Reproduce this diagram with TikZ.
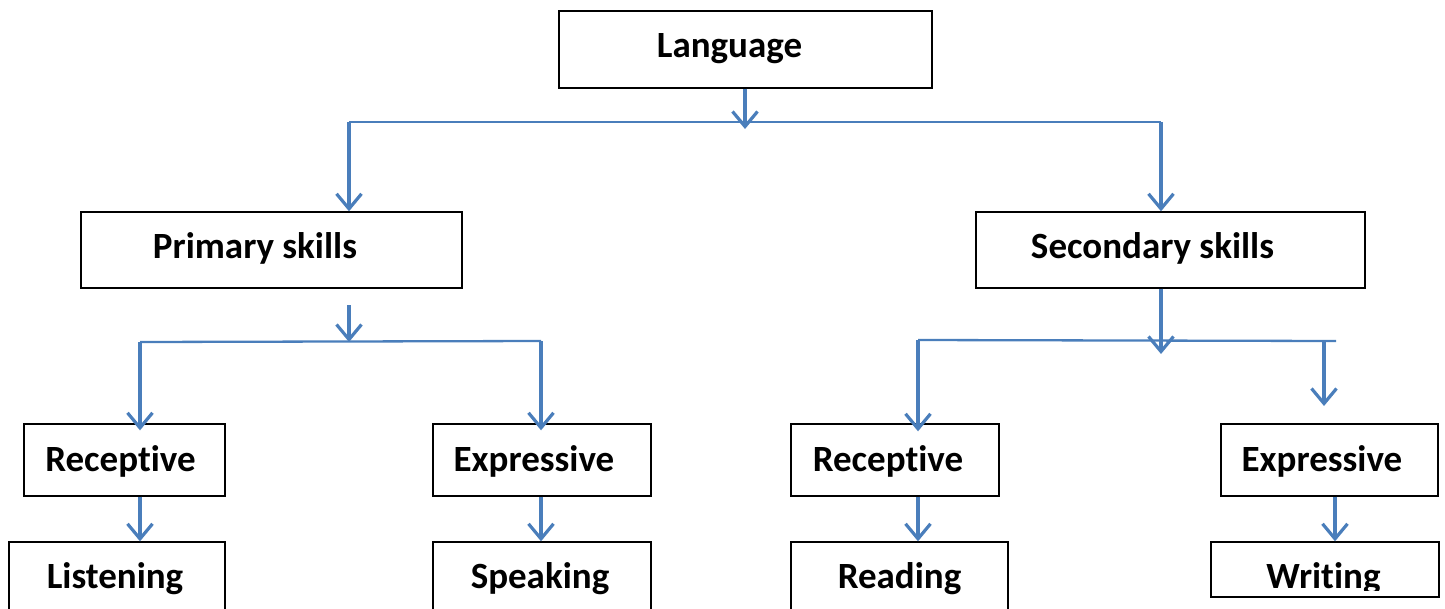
\documentclass[tikz,border=0pt]{standalone}
\usepackage{fontspec}
\setmainfont[Ligatures={NoCommon}]{Carlito}
\usetikzlibrary{arrows.meta}
\definecolor{conn}{HTML}{4A7EBB}
\tikzset{
  box/.style={draw=black, line width=1.4pt, inner sep=0pt},
  lbl/.style={font=\bfseries\fontsize{37}{37}\selectfont, anchor=base, inner sep=0pt},
  link/.style={draw=conn, line width=3.2pt},
  hlink/.style={draw=conn, line width=2.3pt},
  arr/.style={link, -{Straight Barb[length=15pt,width=25pt,line width=3.2pt]}},
}
\begin{document}
\begin{tikzpicture}[x=1pt,y=-1pt]
\useasboundingbox (0,0) rectangle (1445,608);
% boxes
\node[box, minimum width=373pt, minimum height=77pt] (lang) at (745.5,49.5) {};
\node[box, minimum width=381pt, minimum height=76pt] (prim) at (271.5,250) {};
\node[box, minimum width=389pt, minimum height=76pt] (sec) at (1170.5,250) {};
\node[box, minimum width=201pt, minimum height=72pt] (recL) at (124.5,460) {};
\node[box, minimum width=218pt, minimum height=72pt] (expL) at (542,460) {};
\node[box, minimum width=208pt, minimum height=72pt] (recR) at (895,460) {};
\node[box, minimum width=217pt, minimum height=72pt] (expR) at (1329.5,460) {};
\node[box, minimum width=216pt, minimum height=80pt] (lis) at (117,582) {};
\node[box, minimum width=218pt, minimum height=80pt] (spk) at (542,582) {};
\node[box, minimum width=217pt, minimum height=80pt] (rea) at (899.5,582) {};
\node[box, minimum width=228pt, minimum height=55pt] (wri) at (1325,569.5) {};
% labels
\node[lbl] (langT) at (729.5,57) {Language};
\node[lbl] (primT) at (255,258) {Primary skills};
\node[lbl] (secT) at (1152.5,258) {Secondary skills};
\node[lbl] (recLT) at (120.5,471) {Receptive};
\node[lbl] (expLT) at (534,471) {Expressive};
\node[lbl] (recRT) at (888,471) {Receptive};
\node[lbl] (expRT) at (1322,471) {Expressive};
\node[lbl] (lisT) at (115,588) {Listening};
\node[lbl] (spkT) at (540,588) {Speaking};
\node[lbl] (reaT) at (899.5,588) {Reading};
\begin{scope}
\clip (1200,540) rectangle (1445,590);
\node[lbl] (wriT) at (1323.5,588) {Writing};
\end{scope}
% coordinates
\coordinate (j1) at (745,129);
\coordinate (h1L) at (349,122);
\coordinate (h1R) at (1161,122);
\coordinate (p0) at (349,305);
\coordinate (p1) at (349,342);
\coordinate (h2L) at (140,342);
\coordinate (h2R) at (541,341);
\coordinate (s1) at (1161,354);
\coordinate (h3L) at (918,340);
\coordinate (h3R) at (1336,341);
\coordinate (h3W) at (1324,341);
\coordinate (e4) at (1324,406);
% connectors
\draw[arr] (lang.south -| j1) -- (j1);
\draw[hlink] (h1L) -- (h1R);
\draw[arr] (h1L) -- (prim.north -| h1L);
\draw[arr] (h1R) -- (sec.north -| h1R);
\draw[arr] (p0) -- (p1);
\draw[hlink] (h2L) -- (h2R);
\draw[arr] (h2L) -- ([yshift=-7pt]recL.north -| h2L);
\draw[arr] (h2R) -- ([yshift=-7pt]expL.north -| h2R);
\draw[arr] (sec.south -| s1) -- (s1);
\draw[hlink] (h3L) -- (h3R);
\draw[arr] (h3L) -- ([yshift=-8pt]recR.north -| h3L);
\draw[arr] (h3W) -- (e4);
\draw[arr] (recL.south -| h2L) -- (lis.north -| h2L);
\draw[arr] (expL.south -| h2R) -- (spk.north -| h2R);
\draw[arr] (recR.south -| h3L) -- (rea.north -| h3L);
\draw[arr] (expR.south -| 1335,0) -- (wri.north -| 1335,0);
\end{tikzpicture}
\end{document}
